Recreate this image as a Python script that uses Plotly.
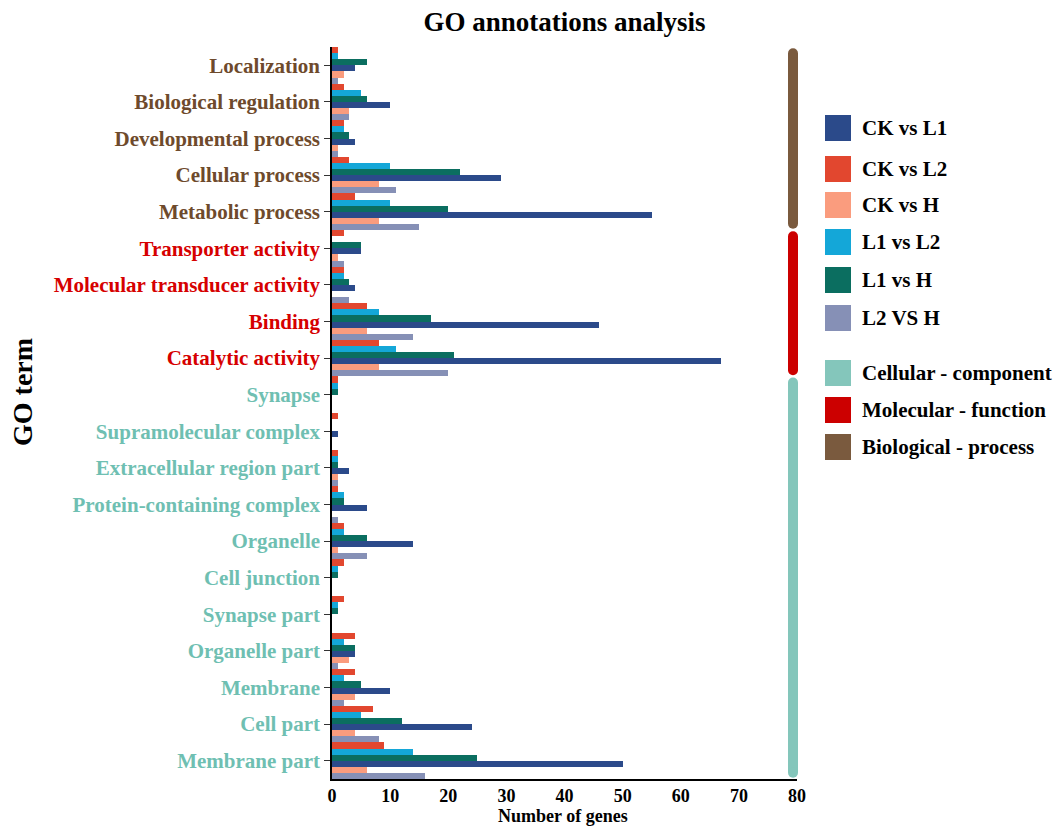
import plotly.graph_objects as go

# GO terms, top to bottom
terms = [
    "Localization", "Biological regulation", "Developmental process",
    "Cellular process", "Metabolic process",
    "Transporter activity", "Molecular transducer activity", "Binding",
    "Catalytic activity",
    "Synapse", "Supramolecular complex", "Extracellular region part",
    "Protein-containing complex", "Organelle", "Cell junction", "Synapse part",
    "Organelle part", "Membrane", "Cell part", "Membrane part",
]
# ontology of each term: BP / MF / CC
ontology = ["BP"] * 5 + ["MF"] * 4 + ["CC"] * 11

# number of genes per comparison
ck_vs_l1 = [4, 10, 4, 29, 55, 5, 4, 46, 67, 0, 1, 3, 6, 14, 0, 0, 4, 10, 24, 50]
ck_vs_l2 = [1, 2, 2, 3, 4, 2, 2, 6, 8, 1, 1, 1, 1, 2, 2, 2, 4, 4, 7, 9]
ck_vs_h = [2, 3, 1, 8, 8, 1, 0, 6, 8, 0, 0, 1, 0, 1, 0, 0, 3, 4, 4, 6]
l1_vs_l2 = [1, 5, 2, 10, 10, 0, 2, 8, 11, 1, 0, 1, 2, 2, 1, 1, 2, 2, 5, 14]
l1_vs_h = [6, 6, 3, 22, 20, 5, 3, 17, 21, 1, 0, 1, 2, 6, 1, 1, 4, 5, 12, 25]
l2_vs_h = [1, 3, 1, 11, 15, 2, 3, 14, 20, 0, 0, 1, 1, 6, 0, 0, 1, 2, 8, 16]

x_ticks = [0, 10, 20, 30, 40, 50, 60, 70, 80]

SERIF = "Liberation Serif, Times New Roman, serif"

series = {
    "CK vs L1": (ck_vs_l1, "#2B4A8A"),
    "CK vs L2": (ck_vs_l2, "#E2472F"),
    "CK vs H": (ck_vs_h, "#FA9C7E"),
    "L1 vs L2": (l1_vs_l2, "#14A7D8"),
    "L1 vs H": (l1_vs_h, "#0B6E60"),
    "L2 VS H": (l2_vs_h, "#8690B6"),
}
# order of bars inside each group, top to bottom
bar_order = ["CK vs L2", "L1 vs L2", "L1 vs H", "CK vs L1", "CK vs H", "L2 VS H"]

onto_bar = {"BP": "#7A5A3E", "MF": "#CC0000", "CC": "#84C6BB"}
onto_text = {"BP": "#6E4A2C", "MF": "#D60000", "CC": "#6FBFB2"}

fig = go.Figure()
for name in bar_order:
    vals, col = series[name]
    fig.add_trace(go.Bar(
        y=terms, x=vals, orientation="h", name=name,
        marker=dict(color=col, line=dict(width=0)),
        showlegend=False,
    ))

ticktext = [
    f"<span style='color:{onto_text[o]}'><b>{t}</b></span>"
    for t, o in zip(terms, ontology)
]

L, R, T, B = 332, 264, 47, 49
W, H = 1061, 828
PW, PH = W - L - R, H - T - B


def px_x(x):
    """page pixel x -> paper coordinate"""
    return (x - L) / PW


def px_y(y):
    """page pixel y -> paper coordinate"""
    return 1 - (y - T) / PH


fig.update_layout(
    width=W, height=H,
    margin=dict(l=L, r=R, t=T, b=B),
    paper_bgcolor="white", plot_bgcolor="white",
    barmode="group", bargap=0, bargroupgap=0,
    font=dict(family=SERIF, color="black"),
    title=dict(
        text="<b>GO annotations analysis</b>",
        x=(L + (W - R)) / 2 / W, xanchor="center",
        y=1 - 22 / H, yanchor="middle",
        font=dict(size=27, family=SERIF, color="black"),
    ),
    xaxis=dict(
        range=[0, 80], tickvals=x_ticks,
        ticktext=[f"<b>{v}</b>" for v in x_ticks],
        showgrid=False, zeroline=False,
        showline=True, linecolor="black", linewidth=1.5,
        ticks="", tickfont=dict(size=18, family=SERIF, color="black"),
    ),
    yaxis=dict(
        categoryorder="array", categoryarray=terms,
        tickvals=terms, ticktext=ticktext,
        autorange=False, range=[len(terms) - 0.5, -0.5],
        showgrid=False, zeroline=False,
        showline=True, linecolor="black", linewidth=1.5,
        ticks="outside", ticklen=6, tickwidth=1.2, tickcolor="#333",
        tickfont=dict(size=21, family=SERIF),
    ),
)

# axis titles
fig.add_annotation(
    xref="paper", yref="paper", x=px_x(22), y=px_y(392),
    text="<b>GO term</b>", textangle=-90, showarrow=False,
    xanchor="center", yanchor="middle",
    font=dict(size=28, family=SERIF, color="black"),
)
fig.add_annotation(
    xref="paper", yref="paper", x=px_x(563), y=px_y(828),
    text="<b>Number of genes</b>", showarrow=False,
    xanchor="center", yanchor="bottom",
    font=dict(size=18, family=SERIF, color="black"),
)

# ontology side bar with rounded ends
bar_x = px_x(793)
unit_px = PH / len(terms)
gap = 1.2 / unit_px
cap = 5
for onto in ["BP", "MF", "CC"]:
    idx = [i for i, o in enumerate(ontology) if o == onto]
    top = min(idx) - 0.5 + gap + cap / unit_px
    bot = max(idx) + 0.5 - gap - cap / unit_px
    col = onto_bar[onto]
    fig.add_shape(type="rect", xref="paper", yref="y", xsizemode="pixel",
                  xanchor=bar_x, x0=-cap, x1=cap, y0=top, y1=bot,
                  fillcolor=col, line=dict(width=0), layer="above")
    for yc in (top, bot):
        fig.add_shape(type="circle", xref="paper", yref="y",
                      xsizemode="pixel", ysizemode="pixel",
                      xanchor=bar_x, yanchor=yc, x0=-cap, x1=cap, y0=-cap, y1=cap,
                      fillcolor=col, line=dict(width=0), layer="above")

# legend
legend_items = [(n, series[n][1], y) for n, y in zip(
    ["CK vs L1", "CK vs L2", "CK vs H", "L1 vs L2", "L1 vs H", "L2 VS H"],
    [128, 169, 205, 242, 280, 318])]
legend_items += [
    ("Cellular - component", onto_bar["CC"], 373),
    ("Molecular - function", onto_bar["MF"], 410),
    ("Biological - process", onto_bar["BP"], 447),
]
for name, col, yc in legend_items:
    fig.add_shape(type="rect", xref="paper", yref="paper",
                  x0=px_x(825), x1=px_x(851), y0=px_y(yc + 13), y1=px_y(yc - 13),
                  fillcolor=col, line=dict(width=0))
    fig.add_annotation(xref="paper", yref="paper", x=px_x(860), y=px_y(yc),
                       text=f"<b>{name}</b>", showarrow=False,
                       xanchor="left", yanchor="middle",
                       font=dict(size=21, family=SERIF, color="black"))

fig.write_html("out.html")
